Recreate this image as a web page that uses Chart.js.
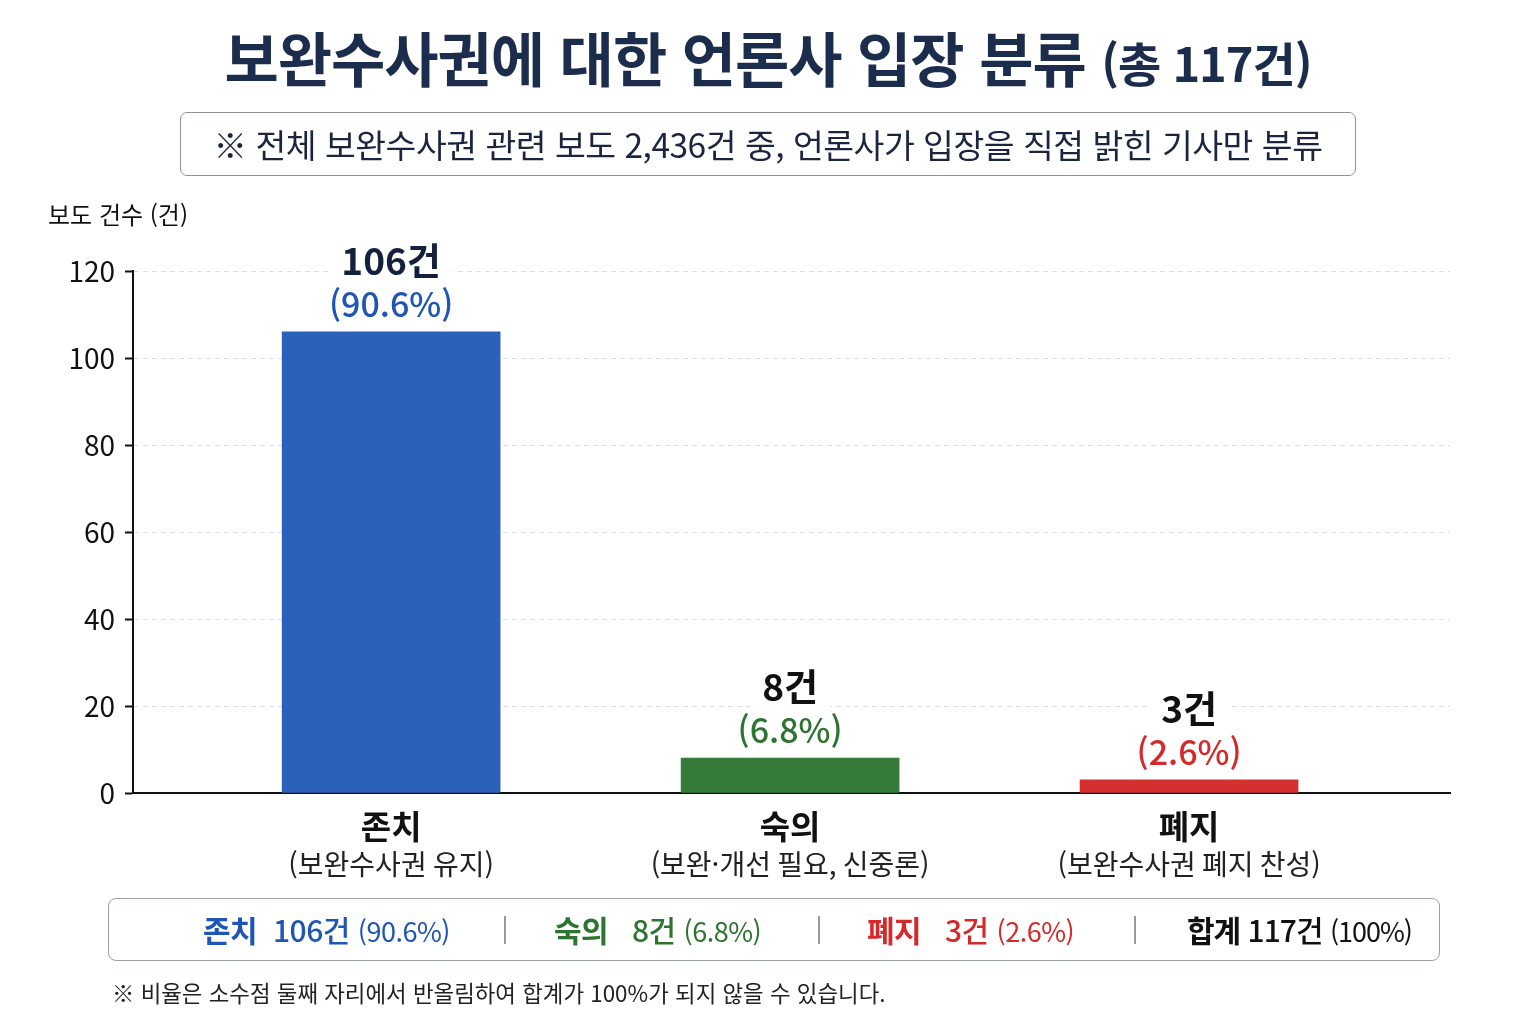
<!DOCTYPE html>
<html lang="ko">
<head>
<meta charset="utf-8">
<script src="https://cdn.jsdelivr.net/npm/chart.js@4"></script>
<style>
  html, body { margin: 0; padding: 0; background: #fff; }
  body { width: 1536px; height: 1024px; position: relative; overflow: hidden;
         font-family: "Noto Sans CJK KR", "Noto Sans", sans-serif; }
  #wrap { position: absolute; left: 0; top: 0; width: 1536px; height: 1024px; }
  .abs { position: absolute; white-space: nowrap; }
  #title { left: 0; width: 1536px; top: 19px; text-align: center; color: #1b2c4c;
           font-weight: 700; font-size: 59px; line-height: 76px; letter-spacing: -1px; }
  #title small { font-size: 47px; letter-spacing: -1px; }
  #sub { left: 180px; top: 112px; width: 1174px; height: 62px; border: 1.5px solid #8d929b;
         border-radius: 7px; text-align: center; line-height: 62px; font-size: 33.5px;
         color: #1b2540; letter-spacing: -0.5px; }
  #ytitle { left: 48px; top: 196px; font-size: 24px; color: #111; }
  #summary { left: 108px; top: 898px; width: 1330px; height: 61px; border: 1.5px solid #9a9ea6;
             border-radius: 8px; }
  .item { position: absolute; top: 0; line-height: 61px; font-size: 30px; letter-spacing: -0.5px; }
  .item b { font-weight: 700; }
  .item .n { font-weight: 500; }
  .item .p { font-size: 27px; font-weight: 400; }
  .sep { position: absolute; top: 17px; width: 1.5px; height: 28px; background: #999; }
  #note { left: 112px; top: 976px; font-size: 22.4px; color: #222; }
</style>
</head>
<body>
<div id="wrap"><canvas id="chart"></canvas></div>
<div id="title" class="abs">보완수사권에 대한 언론사 입장 분류 <small>(총 117건)</small></div>
<div id="sub" class="abs">※ 전체 보완수사권 관련 보도 2,436건 중, 언론사가 입장을 직접 밝힌 기사만 분류</div>
<div id="ytitle" class="abs">보도 건수 (건)</div>
<div id="summary" class="abs"></div>
<div id="note" class="abs">※ 비율은 소수점 둘째 자리에서 반올림하여 합계가 100%가 되지 않을 수 있습니다.</div>
<script>
const categories = ['존치', '숙의', '폐지'];
const subLabels = ['(보완수사권 유지)', '(보완·개선 필요, 신중론)', '(보완수사권 폐지 찬성)'];
const counts = [106, 8, 3];
const percents = ['90.6%', '6.8%', '2.6%'];
const total = 117;
const yTicks = [0, 20, 40, 60, 80, 100, 120];

const barColors = ['#2962b8', '#357a38', '#d62f2f'];
const textColors = ['#1f55b5', '#2e7431', '#d42a2a'];

// summary strip
const summary = document.getElementById('summary');
const itemLeft = [94, 445, 758, 1078];
const sepLeft = [395, 709, 1025];
categories.forEach((c, i) => {
  const d = document.createElement('div');
  d.className = 'item';
  d.style.left = itemLeft[i] + 'px';
  d.style.color = textColors[i];
  d.innerHTML = `<b>${c}</b>&nbsp;&nbsp;<span class="n">${i === 0 ? '' : '&nbsp;'}${counts[i]}건</span> <span class="p">(${percents[i]})</span>`;
  summary.appendChild(d);
});
const tot = document.createElement('div');
tot.className = 'item';
tot.style.left = itemLeft[3] + 'px';
tot.style.color = '#111';
tot.style.letterSpacing = '-1px';
tot.innerHTML = `<b>합계</b>&nbsp;<span class="n">${total}건</span> <span class="p">(100%)</span>`;
summary.appendChild(tot);
sepLeft.forEach(x => {
  const s = document.createElement('div');
  s.className = 'sep';
  s.style.left = x + 'px';
  summary.appendChild(s);
});

const FONT = '"Noto Sans CJK KR", "Noto Sans", sans-serif';

const barLabels = {
  id: 'barLabels',
  afterDatasetsDraw(chart) {
    const ctx = chart.ctx;
    const meta = chart.getDatasetMeta(0);
    const xAxisY = chart.scales.y.getPixelForValue(0);
    ctx.save();
    ctx.textAlign = 'center';
    ctx.textBaseline = 'middle';
    meta.data.forEach((bar, i) => {
      const top = bar.y;
      // count label
      ctx.font = `700 37px ${FONT}`;
      let t = counts[i] + '건';
      let w = ctx.measureText(t).width;
      ctx.fillStyle = '#fff';
      ctx.fillRect(bar.x - w / 2 - 12, top - 92, w + 24, 44);
      ctx.fillStyle = i === 0 ? '#14213d' : '#111';
      ctx.fillText(t, bar.x, top - 71);
      // percent label
      ctx.font = `500 34px ${FONT}`;
      t = '(' + percents[i] + ')';
      w = ctx.measureText(t).width;
      ctx.fillStyle = '#fff';
      ctx.fillRect(bar.x - w / 2 - 8, top - 48, w + 16, 38);
      ctx.fillStyle = textColors[i];
      ctx.fillText(t, bar.x, top - 28);
      // category labels under axis
      ctx.fillStyle = '#111';
      ctx.font = `700 33px ${FONT}`;
      ctx.fillText(categories[i], bar.x, xAxisY + 33);
      ctx.font = `400 28px ${FONT}`;
      ctx.fillStyle = '#222';
      ctx.fillText(subLabels[i], bar.x, xAxisY + 71);
    });
    ctx.restore();
  }
};

new Chart(document.getElementById('chart').getContext('2d'), {
  type: 'bar',
  data: {
    datasets: [{
      data: counts.map((v, i) => ({ x: i, y: v })),
      backgroundColor: barColors,
      borderWidth: 0,
      barThickness: 218
    }]
  },
  plugins: [barLabels],
  options: {
    responsive: true,
    maintainAspectRatio: false,
    animation: false,
    layout: { padding: { left: 0, right: 86, top: 271, bottom: 0 } },
    plugins: { legend: { display: false }, tooltip: { enabled: false }, title: { display: false } },
    scales: {
      x: {
        type: 'linear',
        offset: false,
        min: -0.647,
        max: 2.654,
        ticks: { display: false },
        grid: { drawOnChartArea: false, drawTicks: false, offset: false },
        border: { display: true, color: '#111', width: 2 },
        afterFit(scale) { scale.height = 1024 - 793; }
      },
      y: {
        min: 0,
        max: 120,
        afterBuildTicks(scale) { scale.ticks = yTicks.map(v => ({ value: v })); },
        ticks: {
          color: '#111',
          padding: 10,
          font: { family: FONT, size: 28 }
        },
        grid: {
          color: '#dedede',
          lineWidth: 1,
          tickColor: '#111',
          tickWidth: 2,
          tickLength: 8,
          tickBorderDash: []
        },
        border: { display: true, color: '#111', width: 2, dash: [5, 4] },
        afterFit(scale) { scale.width = 133; }
      }
    }
  }
});
</script>
</body>
</html>
